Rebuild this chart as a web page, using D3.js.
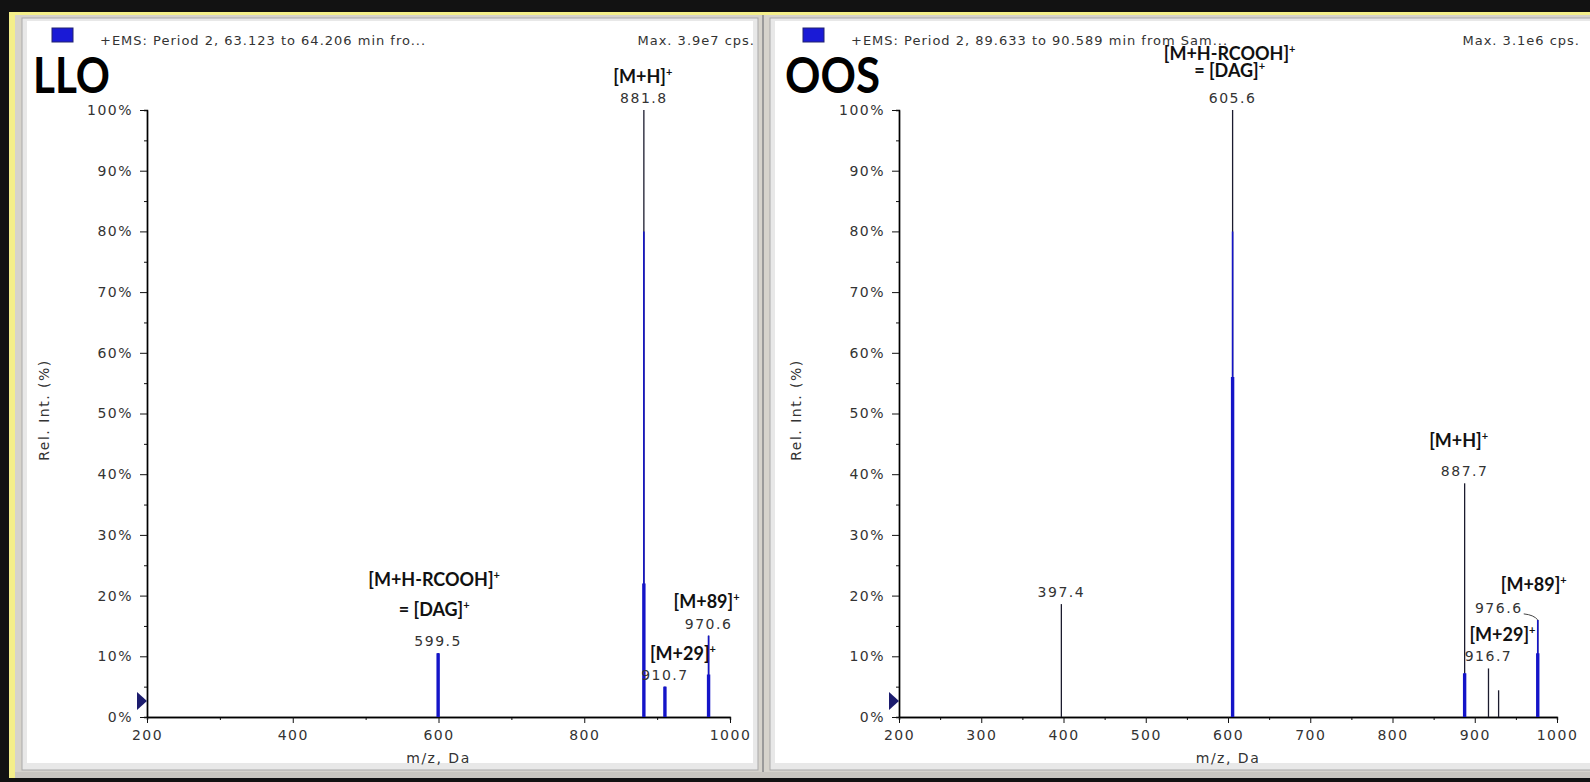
<!DOCTYPE html>
<html>
<head>
<meta charset="utf-8">
<script src="https://cdn.jsdelivr.net/npm/d3@7"></script>
<style>
  body { margin: 0; background: #111; }
  svg { display: block; }
  .tick text, .num { font-family: "DejaVu Sans", sans-serif; font-size: 14px; letter-spacing: 1.5px; fill: #333; }
  .hdr { font-family: "DejaVu Sans", sans-serif; font-size: 13px; letter-spacing: 1px; fill: #333; }
  .ion { font-family: Lato, "Open Sans", sans-serif; font-weight: bold; font-size: 18px; fill: #111; }
  .big { font-family: Lato, "Open Sans", sans-serif; font-weight: bold; font-size: 50px; fill: #000; }
</style>
</head>
<body>
<script>
'use strict';

// ---- data ----
var xTicks = [200, 400, 600, 800, 1000];
var xTicksOos = [200, 300, 400, 500, 600, 700, 800, 900, 1000];
var yTicks = [0, 10, 20, 30, 40, 50, 60, 70, 80, 90, 100];

// LLO spectrum
var lloMz = [599.5, 881.8, 910.7, 970.6];
var lloInt = [10.5, 100, 5.0, 13.4];
var lloBlue = [10.5, 80, 5.0, 13.4];   // part of the stem drawn blue
var lloThick = [10.5, 22, 5.0, 7];     // profile (thick) part
var lloLabelMz = [599.5, 881.8, 910.7, 970.6];
var lloIonMz = [599.5, 881.8, 910.7, 970.6];
var lloIonText = [["[M+H-RCOOH]", "= [DAG]"], ["[M+H]"], ["[M+29]"], ["[M+89]"]];

// OOS spectrum
var oosMz = [397.4, 605.6, 887.7, 916.7, 929.0, 976.6];
var oosInt = [18.6, 100, 38.5, 8.0, 4.4, 16.0];
var oosBlue = [0, 80, 7.2, 0, 0, 16.0];
var oosThick = [0, 56, 7.2, 0, 0, 10.5];
var oosLabelMz = [397.4, 605.6, 887.7, 916.7, 976.6];
var oosIonMz = [605.6, 887.7, 916.7, 976.6];
var oosIonText = [["[M+H-RCOOH]", "= [DAG]"], ["[M+H]"], ["[M+29]"], ["[M+89]"]];

var chart = {};
chart.width = 1590;
chart.height = 782;
chart.blue = "#1414c8";

// pixel offsets of the annotations (layout only)
chart.ionOffset = {
    "LLO599.5": { dx: -4, lines: [-60, -30] },
    "LLO881.8": { dx: -1, lines: [-20] },
    "LLO910.7": { dx: 18, lines: [-20] },
    "LLO970.6": { dx: -2, lines: [-21] },
    "OOS605.6": { dx: -3, lines: [-43, -26] },
    "OOS887.7": { dx: -6, lines: [-29] },
    "OOS916.7": { dx: 14, lines: [-20] },
    "OOS976.6": { dx: -4, lines: [-22] }
};
chart.labelDx = { "OOS976.6": -39 };

chart.drawFrame = function(svg){
    svg.append("rect").attr("width", chart.width).attr("height", chart.height).attr("fill", "#121212");
    svg.append("rect").attr("x", 9).attr("y", 12).attr("width", chart.width).attr("height", 766)
        .attr("fill", "#f4ef8a");
    svg.append("rect").attr("x", 15).attr("y", 15).attr("width", chart.width).attr("height", 763)
        .attr("fill", "#d6d3cc");
    // panels
    [[22, 18, 736, 752], [770, 18, 830, 752]].forEach(function(p){
        svg.append("rect").attr("x", p[0]).attr("y", p[1]).attr("width", p[2]).attr("height", p[3])
            .attr("fill", "#e8e8e8").attr("stroke", "#a9a9a9");
        svg.append("rect").attr("x", p[0] + 5).attr("y", p[1] + 3).attr("width", p[2] - 10).attr("height", p[3] - 10)
            .attr("fill", "#fff");
    });
    svg.append("line").attr("x1", 763).attr("x2", 763).attr("y1", 15).attr("y2", 778)
        .attr("stroke", "#9a9a9a").attr("stroke-width", 2);
    svg.append("rect").attr("x", 15).attr("y", 772).attr("width", chart.width).attr("height", 6).attr("fill", "#c9c6c0");
};

chart.drawPanel = function(svg, o){
    var g = svg.append("g");
    var xScale = d3.scaleLinear().domain([200, 1000]).range(o.xRange);
    var yScale = d3.scaleLinear().domain([0, 100]).range([717, 110]);
    var x0 = o.xRange[0];

    // header
    g.append("rect").attr("x", o.icon).attr("y", 28).attr("width", 21).attr("height", 14)
        .attr("fill", "#1a1ad6").attr("stroke", "#222270");
    g.append("text").attr("class", "hdr").attr("x", o.icon + 48).attr("y", 45).text(o.header);
    g.append("text").attr("class", "hdr").attr("x", o.maxX).attr("y", 45)
        .attr("text-anchor", "end").text(o.max);
    g.append("text").attr("class", "big").attr("x", o.bigX).attr("y", 93)
        .attr("textLength", o.bigW).attr("lengthAdjust", "spacingAndGlyphs").text(o.name);

    // axes
    var yMinor = yTicks.slice(0, -1).map(function(d){ return d + 5; });
    g.append("g").attr("transform", "translate(" + x0 + ",0)")
        .call(d3.axisLeft(yScale).tickValues(yMinor).tickSize(3).tickFormat(""));
    var yAxis = g.append("g").attr("transform", "translate(" + x0 + ",0)")
        .call(d3.axisLeft(yScale).tickValues(yTicks).tickSize(7).tickSizeOuter(0).tickPadding(7)
            .tickFormat(function(d){ return d + "%"; }));

    var step = o.xTicks[1] - o.xTicks[0];
    var xMinor = o.xTicks.slice(0, -1).map(function(d){ return d + step / 2; });
    g.append("g").attr("transform", "translate(0,717)")
        .call(d3.axisBottom(xScale).tickValues(xMinor).tickSize(3).tickFormat(""));
    g.append("g").attr("transform", "translate(0,717)")
        .call(d3.axisBottom(xScale).tickValues(o.xTicks).tickSize(6).tickSizeOuter(0).tickPadding(7)
            .tickFormat(d3.format("d")));
    g.selectAll(".domain").attr("stroke", "#000").attr("stroke-width", 1.4);
    g.selectAll(".tick line").attr("stroke", "#111");

    g.append("text").attr("class", "num").attr("text-anchor", "middle")
        .attr("transform", "translate(" + (x0 - 98) + ",410) rotate(-90)").text("Rel. Int. (%)");
    g.append("text").attr("class", "num").attr("text-anchor", "middle")
        .attr("x", xScale(o.xTitleAt)).attr("y", 763).text("m/z, Da");

    g.append("path")
        .attr("d", "M" + (x0 - 10) + ",692L" + (x0 - 10) + ",710L" + x0 + ",701Z")
        .attr("fill", "#1c1c6e");

    // peaks
    var peaks = o.mz.map(function(m, i){
        return { mz: m, v: o.int[i], blue: o.blue[i], thick: o.thick[i] };
    });
    var pk = g.selectAll(".peak").data(peaks).enter().append("g").classed("peak", true);
    pk.append("line")
        .attr("x1", function(d){ return xScale(d.mz); }).attr("x2", function(d){ return xScale(d.mz); })
        .attr("y1", yScale(0)).attr("y2", function(d){ return yScale(d.v); })
        .attr("stroke", "#1b1b2e").attr("stroke-width", 1.3);
    pk.filter(function(d){ return d.blue > 0; }).append("line")
        .attr("x1", function(d){ return xScale(d.mz); }).attr("x2", function(d){ return xScale(d.mz); })
        .attr("y1", yScale(0)).attr("y2", function(d){ return yScale(d.blue); })
        .attr("stroke", chart.blue).attr("stroke-width", 1.6);
    pk.filter(function(d){ return d.thick > 0; }).append("line")
        .attr("x1", function(d){ return xScale(d.mz); }).attr("x2", function(d){ return xScale(d.mz); })
        .attr("y1", yScale(0)).attr("y2", function(d){ return yScale(d.thick); })
        .attr("stroke", chart.blue).attr("stroke-width", 3.4);

    // value labels
    var lookup = {};
    peaks.forEach(function(d){ lookup[d.mz] = d; });
    o.labelMz.forEach(function(m){
        var dx = chart.labelDx[o.name + m] || 0;
        var px = xScale(m), py = yScale(lookup[m].v);
        g.append("text").attr("class", "num").attr("text-anchor", "middle")
            .attr("x", px + dx).attr("y", py - 7).text(m.toFixed(1));
        if (dx) {
            g.append("path")
                .attr("d", "M" + (px + dx + 25) + "," + (py - 6) + "Q" + (px - 4) + "," + (py - 5) + " " + px + "," + py)
                .attr("fill", "none").attr("stroke", "#444").attr("stroke-width", 1);
        }
    });

    // ion annotations
    o.ionMz.forEach(function(m, i){
        var off = chart.ionOffset[o.name + m];
        var px = xScale(m), py = yScale(lookup[m].v) - 7;
        o.ionText[i].forEach(function(line, j){
            var t = g.append("text").attr("class", "ion").attr("text-anchor", "middle")
                .attr("x", px + off.dx).attr("y", py + off.lines[j]);
            t.append("tspan").text(line);
            t.append("tspan").attr("dy", -7).attr("font-size", 11).text("+");
        });
    });
};

chart.run = function(){
    var svg = d3.select("body").append("svg").attr("width", chart.width).attr("height", chart.height);
    chart.drawFrame(svg);
    chart.drawPanel(svg, {
        name: "LLO", xRange: [147, 730], xTicks: xTicks, xTitleAt: 600,
        icon: 52, maxX: 755, bigX: 33, bigW: 77,
        header: "+EMS: Period 2, 63.123 to 64.206 min fro...", max: "Max. 3.9e7 cps.",
        mz: lloMz, int: lloInt, blue: lloBlue, thick: lloThick,
        labelMz: lloLabelMz, ionMz: lloIonMz, ionText: lloIonText
    });
    chart.drawPanel(svg, {
        name: "OOS", xRange: [899, 1557], xTicks: xTicksOos, xTitleAt: 600,
        icon: 803, maxX: 1580, bigX: 785, bigW: 95,
        header: "+EMS: Period 2, 89.633 to 90.589 min from Sam...", max: "Max. 3.1e6 cps.",
        mz: oosMz, int: oosInt, blue: oosBlue, thick: oosThick,
        labelMz: oosLabelMz, ionMz: oosIonMz, ionText: oosIonText
    });
};

window.onload = chart.run;
</script>
</body>
</html>
